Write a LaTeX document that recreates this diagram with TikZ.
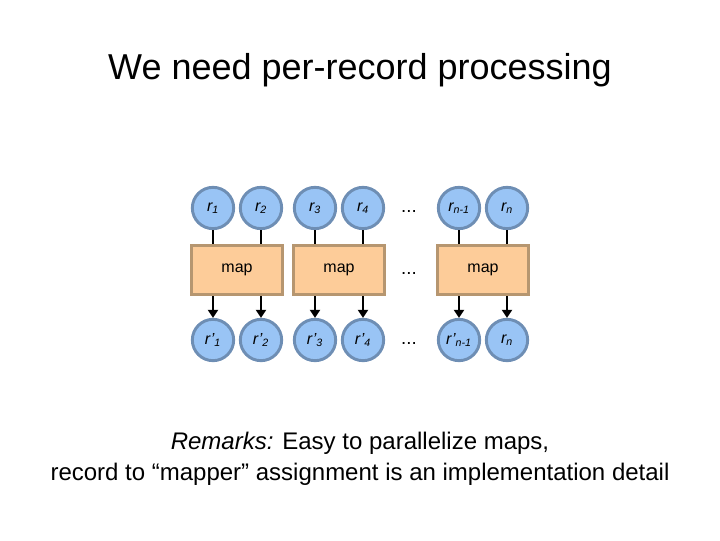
\documentclass[tikz,border=0pt]{standalone}
\usepackage{fontspec}
\setmainfont{Liberation Sans}
\usetikzlibrary{arrows.meta}
\definecolor{circfill}{RGB}{153,196,245}
\definecolor{circdraw}{RGB}{110,142,180}
\definecolor{boxfill}{RGB}{253,204,153}
\definecolor{boxdraw}{RGB}{182,150,112}
\tikzset{
  rec/.style={circle,fill=circfill,draw=circdraw,line width=2.2pt,minimum size=31pt,inner sep=0pt,font=\fontsize{12}{14}\selectfont\itshape},
  mapbox/.style={rectangle,fill=boxfill,draw=boxdraw,line width=2.2pt,minimum width=68pt,minimum height=37pt,inner sep=0pt,font=\fontsize{12}{14}\selectfont},
  dots/.style={font=\fontsize{14}{16}\selectfont},
  link/.style={line width=1.6pt,black},
  flow/.style={line width=1.6pt,black,-{Triangle[length=6pt,width=7.5pt]}}
}
\begin{document}
\begin{tikzpicture}[x=0.75pt,y=-0.75pt]
\path[use as bounding box] (0,0) rectangle (720,540);
\node[font=\fontsize{27}{32}\selectfont] (title) at (360,70) {We need per-record processing};
% top row
\node[rec] (a1) at (213,208) {r\textsubscript{1}};
\node[rec] (a2) at (261,208) {r\textsubscript{2}};
\node[rec] (a3) at (315,208) {r\textsubscript{3}};
\node[rec] (a4) at (363,208) {r\textsubscript{4}};
\node[dots] (ad) at (409,211) {...};
\node[rec] (a5) at (459,208) {r\textsubscript{n-1}};
\node[rec] (a6) at (507,208) {r\textsubscript{n}};
% maps
\node[mapbox] (m1) at (237,270) {map};
\node[mapbox] (m2) at (339,270) {map};
\node[dots] (md) at (409,273) {...};
\node[mapbox] (m3) at (483,270) {map};
% bottom row
\node[rec] (b1) at (213,340) {r\kern0.5pt\textquoteright\textsubscript{1}};
\node[rec] (b2) at (261,340) {r\kern0.5pt\textquoteright\textsubscript{2}};
\node[rec] (b3) at (315,340) {r\kern0.5pt\textquoteright\textsubscript{3}};
\node[rec] (b4) at (363,340) {r\kern0.5pt\textquoteright\textsubscript{4}};
\node[dots] (bd) at (409,343) {...};
\node[rec] (b5) at (459,340) {r\kern0.5pt\textquoteright\textsubscript{n-1}};
\node[rec] (b6) at (507,340) {r\textsubscript{n}};
% links
\foreach \i/\m in {1/1,2/1,3/2,4/2,5/3,6/3}{
  \draw[link] (a\i.south) -- (a\i.south |- m\m.north);
  \draw[flow] (b\i.north |- m\m.south) -- (b\i.north);
}
\node[align=center,font=\fontsize{18}{23.5}\selectfont] (rem) at (360,459) {\textit{Remarks:} Easy to parallelize maps,\\record to \textquotedblleft mapper\textquotedblright\ assignment is an implementation detail};
\end{tikzpicture}
\end{document}
